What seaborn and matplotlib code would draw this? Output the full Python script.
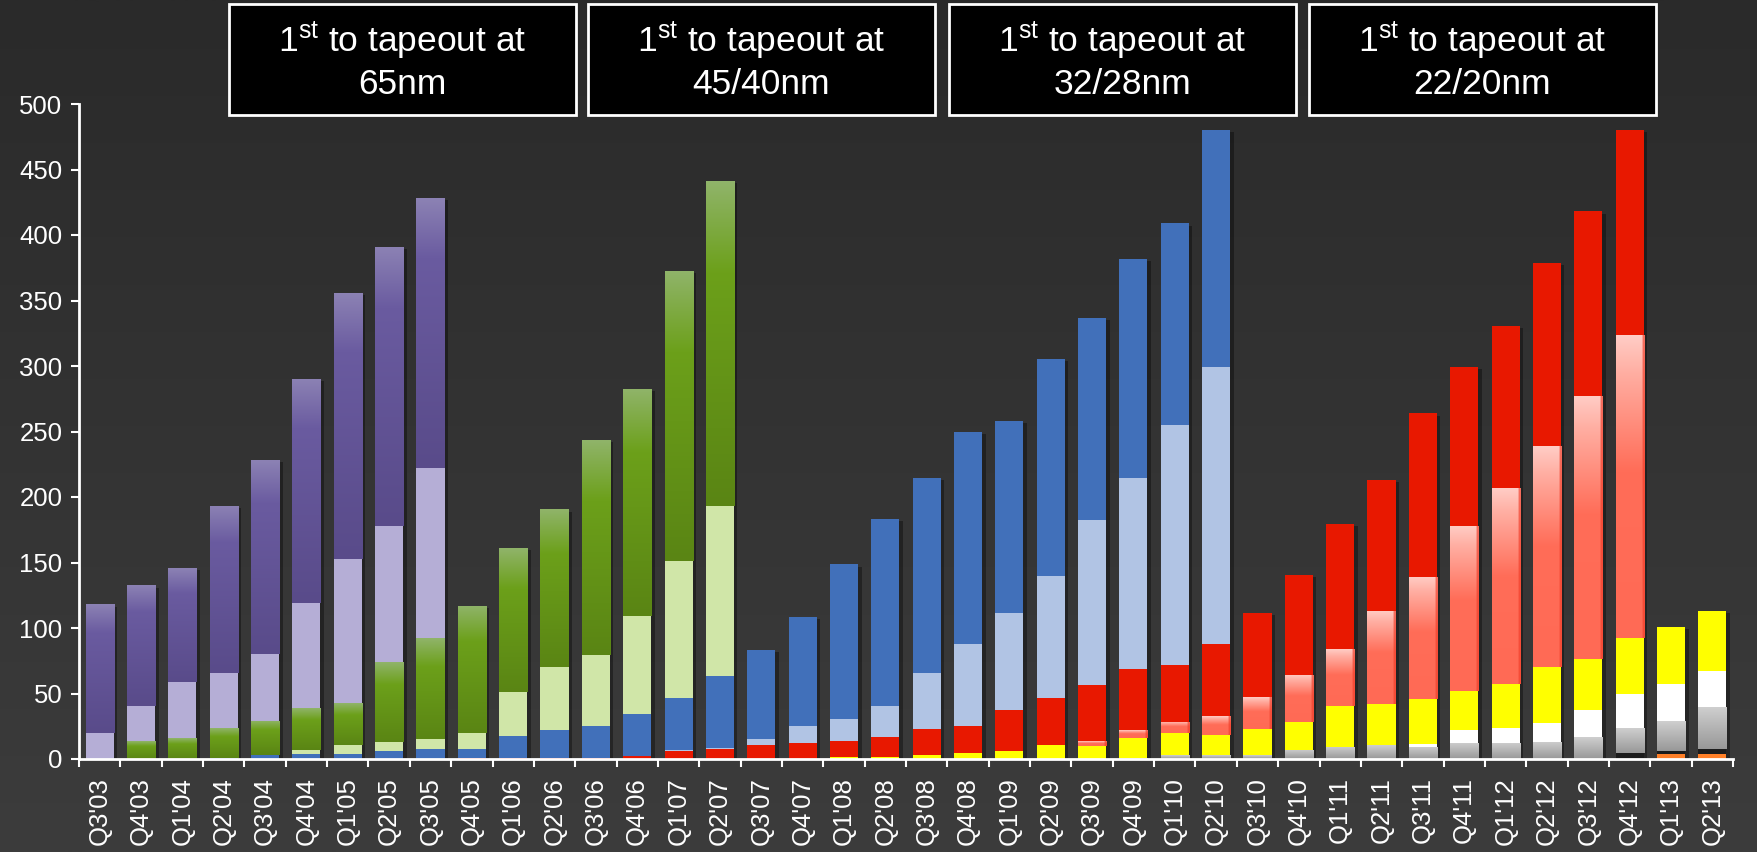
import numpy as np
import pandas as pd
import matplotlib
matplotlib.use("Agg")
import matplotlib.pyplot as plt
import matplotlib.patheffects as pe
from matplotlib.colors import to_rgb
from matplotlib.patches import Rectangle
from matplotlib.ticker import FixedLocator, MultipleLocator
import seaborn as sns

# ---------------------------------------------------------------- data
quarters = ["Q3'03", "Q4'03", "Q1'04", "Q2'04", "Q3'04", "Q4'04", "Q1'05", "Q2'05", "Q3'05", "Q4'05",
            "Q1'06", "Q2'06", "Q3'06", "Q4'06", "Q1'07", "Q2'07", "Q3'07", "Q4'07", "Q1'08", "Q2'08",
            "Q3'08", "Q4'08", "Q1'09", "Q2'09", "Q3'09", "Q4'09", "Q1'10", "Q2'10", "Q3'10", "Q4'10",
            "Q1'11", "Q2'11", "Q3'11", "Q4'11", "Q1'12", "Q2'12", "Q3'12", "Q4'12", "Q1'13", "Q2'13"]

orange = [0, 0, 0, 0, 0, 0, 0, 0, 0, 0,
          0, 0, 0, 0, 0, 0, 0, 0, 0, 0,
          0, 0, 0, 0, 0, 0, 0, 0, 0, 0,
          0, 0, 0, 0, 0, 0, 0, 0, 3.7, 3.7]
black = [0, 0, 0, 0, 0, 0, 0, 0, 0, 0,
         0, 0, 0, 0, 0, 0, 0, 0, 0, 0,
         0, 0, 0, 0, 0, 0, 0, 0, 0, 0,
         0, 0, 0, 0, 0, 0, 0, 4.8, 2.4, 4.1]
gray = [0, 0, 0, 0, 0, 0, 0, 0, 0, 0,
        0, 0, 0, 0, 0, 0, 0, 0, 0, 0,
        0, 0, 0, 0, 0, 1, 3, 3, 3, 7,
        9.5, 10.6, 9.5, 12.3, 12.3, 13.3, 16.7, 19, 22.8, 32]
white = [0, 0, 0, 0, 0, 0, 0, 0, 0, 0,
         0, 0, 0, 0, 0, 0, 0, 0, 0, 0,
         0, 0, 0, 0, 0, 0, 0, 0, 0, 0,
         0, 0, 1.7, 9.5, 11.5, 14.3, 20.7, 25.9, 28.3, 27.6]
yellow = [0, 0, 0, 0, 0, 0, 0, 0, 0, 0,
          0, 0, 0, 0, 0, 0, 0, 0, 1.5, 1.5,
          2.7, 4.8, 5.8, 10.6, 9.9, 14.7, 16.7, 15.7, 20, 21.5,
          31, 31.3, 34.4, 29.9, 33.7, 42.9, 39.2, 42.9, 43.5, 45.3]
red_light = [0, 0, 0, 0, 0, 0, 0, 0, 0, 0,
             0, 0, 0, 0, 0, 0, 0, 0, 0, 0,
             0, 0, 0, 0, 3.7, 6.1, 8.6, 14, 24.2, 36,
             43.2, 71.4, 93.3, 126, 149.1, 168.1, 200.8, 230.8, 0, 0]
red = [0, 0, 0, 0, 0, 0, 0, 0, 0, 0.5,
       0.5, 0.5, 0.5, 2, 5.8, 7.8, 10.6, 12, 12, 15,
       20, 20.7, 31.6, 36, 42.9, 47, 43.5, 55, 64.3, 76,
       96, 99.4, 124.9, 121.8, 124.2, 140.2, 140.6, 156.5, 0, 0]
blue_light = [0, 0, 0, 0, 0, 0, 0, 0, 0, 0,
              0, 0, 0, 0, 1, 0.7, 4.7, 13.5, 17, 24,
              43, 62.3, 74.2, 93.3, 126.3, 146, 183, 211.7, 0, 0,
              0, 0, 0, 0, 0, 0, 0, 0, 0, 0]
blue = [0, 0, 0, 1, 3, 4, 4, 6, 7.5, 7,
        17.2, 22, 25, 32, 40, 55, 68, 83, 118, 143,
        149, 162, 146.7, 165.7, 153.8, 166.8, 154, 181, 0, 0,
        0, 0, 0, 0, 0, 0, 0, 0, 0, 0]
green_light = [0, 0, 0, 0, 0, 3, 7, 7, 8, 12,
               33.7, 48, 54, 75, 104, 130, 0, 0, 0, 0,
               0, 0, 0, 0, 0, 0, 0, 0, 0, 0,
               0, 0, 0, 0, 0, 0, 0, 0, 0, 0]
green = [0, 13.5, 16, 22.5, 26, 32, 32, 61, 77, 97,
         109.6, 120, 164, 173.5, 222, 248, 0, 0, 0, 0,
         0, 0, 0, 0, 0, 0, 0, 0, 0, 0,
         0, 0, 0, 0, 0, 0, 0, 0, 0, 0]
purple_light = [20, 27, 42.5, 42, 51, 80, 110, 104, 130, 0,
                0, 0, 0, 0, 0, 0, 0, 0, 0, 0,
                0, 0, 0, 0, 0, 0, 0, 0, 0, 0,
                0, 0, 0, 0, 0, 0, 0, 0, 0, 0]
purple_dark = [98, 92, 87, 128, 148, 171, 203, 213, 206, 0,
               0, 0, 0, 0, 0, 0, 0, 0, 0, 0,
               0, 0, 0, 0, 0, 0, 0, 0, 0, 0,
               0, 0, 0, 0, 0, 0, 0, 0, 0, 0]

box_lines = ["65nm", "45/40nm", "32/28nm", "22/20nm"]

y_ticks = [0, 50, 100, 150, 200, 250, 300, 350, 400, 450, 500]

# ---------------------------------------------------------------- styling
# (series, flat colour, vertical gradient stops from top, darker right edge)
layers = [
    (orange, "#ff7f27", None, None),
    (black, "#1c1c1c", None, None),
    (gray, "#b0b0b0", [(0.0, "#cfcfcf"), (1.0, "#989898")], None),
    (white, "#ffffff", None, None),
    (yellow, "#ffff00", None, None),
    (red_light, "#ff6a55", [(0.0, "#ffcdc6"), (0.12, "#ffafa3"), (0.45, "#ff6d58"), (1.0, "#ff6a55")], "#f03c28"),
    (red, "#e81800", None, None),
    (blue_light, "#b1c4e4", None, None),
    (blue, "#4170ba", None, None),
    (green_light, "#d0e6a8", None, None),
    (green, "#6a9c18", [(0.0, "#90b46a"), (0.28, "#6ca01a"), (1.0, "#5a8514")], None),
    (purple_light, "#b5aed6", None, None),
    (purple_dark, "#62549a", [(0.0, "#8c82b4"), (0.22, "#6a5ba0"), (1.0, "#594b8a")], None),
]

W, H, DPI = 1757, 852, 100
BAR_W = 0.68

sns.set_theme(style="white")
plt.rcParams["font.family"] = ["Liberation Sans", "DejaVu Sans"]
plt.rcParams["mathtext.fontset"] = "custom"
plt.rcParams["mathtext.rm"] = "Liberation Sans"
plt.rcParams["mathtext.it"] = "Liberation Sans"
plt.rcParams["mathtext.bf"] = "Liberation Sans"


def gradient_array(stops, edge_color=None, n=256, m=24):
    pos = np.array([s[0] for s in stops])
    cols = np.array([to_rgb(s[1]) for s in stops])
    t = np.linspace(0, 1, n)
    col = np.stack([np.interp(t, pos, cols[:, k]) for k in range(3)], axis=1)
    img = np.repeat(col[:, None, :], m, axis=1)
    if edge_color is not None:
        ec = np.array(to_rgb(edge_color))
        img[:, -2:, :] = img[:, -2:, :] * 0.35 + ec * 0.65
    return img


fig = plt.figure(figsize=(W / DPI, H / DPI), dpi=DPI)

# dark backdrop, slightly lighter toward the bottom
bg = fig.add_axes([0, 0, 1, 1], zorder=-10)
shade = np.linspace(0, 1, 256)[:, None]
top_c, bot_c = np.array(to_rgb("#2a2a2a")), np.array(to_rgb("#3c3c3c"))
bg.imshow(top_c + (bot_c - top_c) * shade[..., None] * np.ones((1, 2, 1)),
          aspect="auto", extent=[0, 1, 0, 1], interpolation="bilinear")
bg.set_axis_off()

ax = fig.add_axes([79 / W, 1 - 759 / H, (1733 - 79) / W, (759 - 104) / H])
ax.set_facecolor("none")

# soft shadow under each full column
totals = np.sum([np.array(l[0], dtype=float) for l in layers], axis=0)
sns.barplot(x=quarters, y=totals, order=quarters, color="#222222", width=BAR_W,
            errorbar=None, ax=ax, zorder=1, linewidth=0,
            path_effects=[pe.SimplePatchShadow(offset=(2.5, -1.5), shadow_rgbFace="black", alpha=0.35),
                          pe.Normal()])

bottom = np.zeros(len(quarters))
for values, color, stops, edge in layers:
    vals = np.array(values, dtype=float)
    n_before = len(ax.patches)
    sns.barplot(x=quarters, y=vals, order=quarters, color=color, width=BAR_W,
                errorbar=None, ax=ax, bottom=bottom, zorder=2, linewidth=0,
                saturation=1)
    if stops is not None:
        img = gradient_array(stops, edge)
        for patch in ax.patches[n_before:]:
            h = patch.get_height()
            if h <= 0:
                continue
            x0, y0 = patch.get_x(), patch.get_y()
            im = ax.imshow(img, extent=[x0, x0 + patch.get_width(), y0, y0 + h],
                           aspect="auto", origin="upper", interpolation="bilinear",
                           zorder=2.5)
            im.set_clip_path(patch)
    bottom = bottom + vals

# ---------------------------------------------------------------- axes
ax.set_xlim(-0.5, len(quarters) - 0.5)
ax.set_ylim(0, 500)
ax.set_xlabel("")
ax.set_ylabel("")
for side in ("top", "right"):
    ax.spines[side].set_visible(False)
for side in ("left", "bottom"):
    ax.spines[side].set_color("white")
    ax.spines[side].set_linewidth(2)
    ax.spines[side].set_zorder(5)

ax.yaxis.set_major_locator(FixedLocator(y_ticks))
ax.set_yticklabels([str(v) for v in y_ticks])
ax.tick_params(axis="y", colors="white", labelcolor="white", labelsize=18.5,
               length=6, width=1.5, direction="out", pad=6, left=True)

ax.set_xticks(range(len(quarters)))
ax.set_xticklabels(quarters, rotation=90)
ax.xaxis.set_minor_locator(MultipleLocator(1, offset=0.5))
ax.tick_params(axis="x", which="major", length=0, labelsize=18.5, labelcolor="white", pad=13)
ax.tick_params(axis="x", which="minor", length=6, width=1.5, color="white",
               direction="out", bottom=True)
ax.grid(False)

# ---------------------------------------------------------------- node call-outs
box_left = [229, 588, 949, 1309]
for x0, line2 in zip(box_left, box_lines):
    fig.add_artist(Rectangle((x0 / W, 1 - 115 / H), 347 / W, 111 / H,
                             transform=fig.transFigure, facecolor="black",
                             edgecolor="white", linewidth=2, zorder=20))
    cx = (x0 + 173.5) / W
    fig.text(cx, 1 - 41 / H, r"1$^{\mathrm{st}}$ to tapeout at", color="white",
             fontsize=25.5, ha="center", va="center", zorder=21)
    fig.text(cx, 1 - 84 / H, line2, color="white", fontsize=25.5,
             ha="center", va="center", zorder=21)

fig.savefig("out.png", dpi=DPI, facecolor="#2f2f2f")
